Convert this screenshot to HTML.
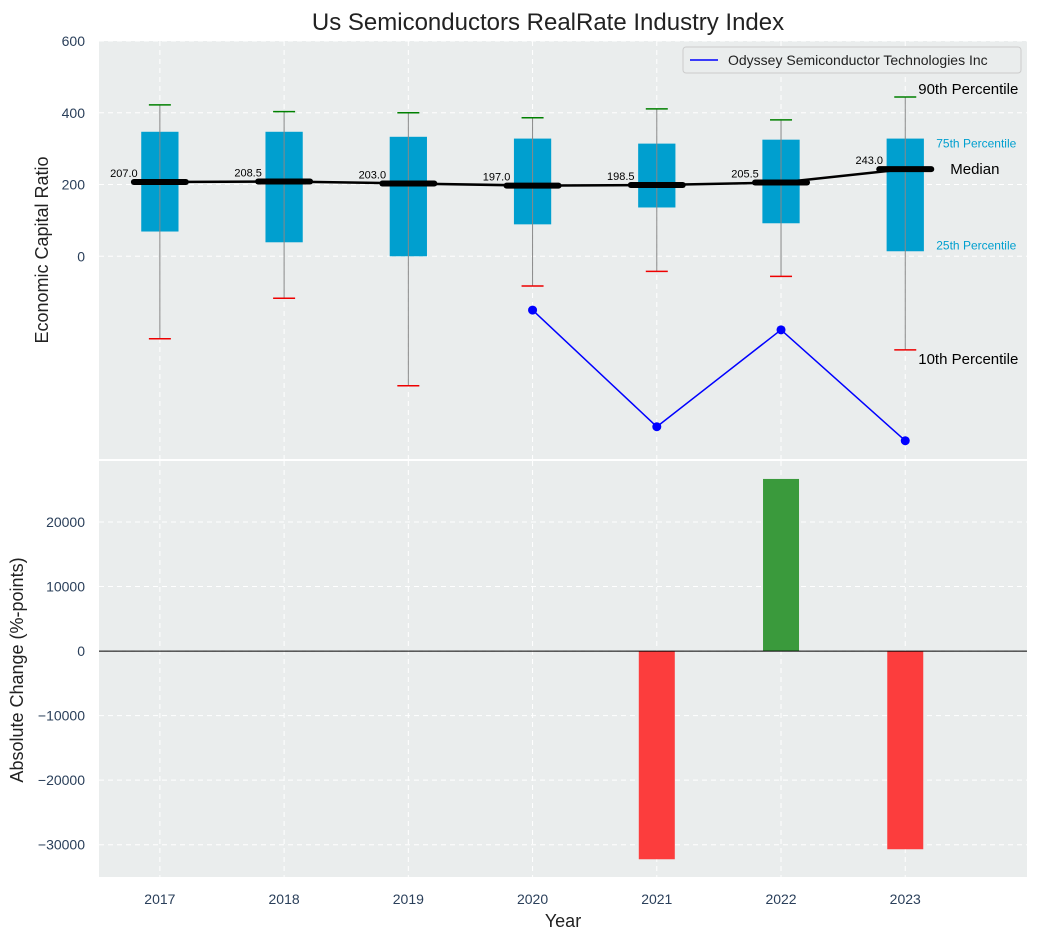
<!DOCTYPE html>
<html><head><meta charset="utf-8"><style>
body{margin:0;background:#fff;font-family:"Liberation Sans",sans-serif}
svg text{font-family:"Liberation Sans","DejaVu Sans",sans-serif}
</style></head><body>
<svg id="c" width="1038" height="940" xmlns="http://www.w3.org/2000/svg">
<text x="548" y="30" text-anchor="middle" font-size="24" fill="#222">Us Semiconductors RealRate Industry Index</text>
<g id="topG"></g><g id="botG"></g>
</svg>
<script>
const years=[2017,2018,2019,2020,2021,2022,2023];
const p90=[422,403,400,386,411,380,444];
const p75=[347,347,333,328,314,325,328];
const med=[207.0,208.5,203.0,197.0,198.5,205.5,243.0];
const p25=[69,39,0,89,136,92,14];
const p10=[-230,-117,-361,-83,-42,-56,-261];
const compYears=[2020,2021,2022,2023];
const compVals=[-150,-475,-205,-514];
const chgYears=[2021,2022,2023];
const chgVals=[-32250,26670,-30700];
const topTicks=[600,400,200,0];
const botTicks=[20000,10000,0,-10000,-20000,-30000];

const NS="http://www.w3.org/2000/svg";
function el(p,t,a,txt){const e=document.createElementNS(NS,t);for(const k in a)e.setAttribute(k,a[k]);if(txt!==undefined)e.textContent=txt;p.appendChild(e);return e;}
const L=99,R=1027;
const XMIN=2016.51,XMAX=2023.98;
const X=v=>L+(v-XMIN)/(XMAX-XMIN)*(R-L);
const T0=41,T1=459,Y=v=>T0+(600-v)/(600-(-565))*(T1-T0);
const B0=461,B1=877,YB=v=>B0+(29450-v)/(29450-(-35000))*(B1-B0);
const topG=document.getElementById('topG'),botG=document.getElementById('botG');
const svg=document.getElementById('c');

let r=el(topG,'rect',{x:L,y:T0,width:R-L,height:T1-T0,fill:'#eaeded'});

r=el(botG,'rect',{x:L,y:B0,width:R-L,height:B1-B0,fill:'#eaeded'});


topTicks.forEach(t=>{el(topG,'line',{x1:L,x2:R,y1:Y(t),y2:Y(t),stroke:'#fff','stroke-dasharray':'5,4','stroke-width':1});
 const tx=el(topG,'text',{x:85,y:Y(t)+5,'text-anchor':'end','font-size':14,fill:'#2a3f5a'},String(t));
 });
botTicks.forEach(t=>{el(botG,'line',{x1:L,x2:R,y1:YB(t),y2:YB(t),stroke:'#fff','stroke-dasharray':'5,4','stroke-width':1});
 const tx=el(botG,'text',{x:85,y:YB(t)+5,'text-anchor':'end','font-size':14,fill:'#2a3f5a'},t<0?'\u2212'+(-t):String(t));
 });
years.forEach(y=>{
 el(topG,'line',{x1:X(y),x2:X(y),y1:T0,y2:T1,stroke:'#fff','stroke-dasharray':'5,4'});
 el(botG,'line',{x1:X(y),x2:X(y),y1:B0,y2:B1,stroke:'#fff','stroke-dasharray':'5,4'});
 const tx=el(botG,'text',{x:X(y),y:904,'text-anchor':'middle','font-size':14,fill:'#2a3f5a'},String(y));
 
});

const bw=(X(2017.15)-X(2017));
years.forEach((y,i)=>{
 const cx=X(y);
 const g=el(topG,'g',{});
 
 el(g,'rect',{x:cx-bw,y:Y(p75[i]),width:2*bw,height:Y(p25[i])-Y(p75[i]),fill:'#009fcf'});
 el(g,'line',{x1:cx,x2:cx,y1:Y(p90[i]),y2:Y(p10[i]),stroke:'#888','stroke-width':1});
 el(g,'line',{x1:cx-11,x2:cx+11,y1:Y(p90[i]),y2:Y(p90[i]),stroke:'#008000','stroke-width':1.5});
 el(g,'line',{x1:cx-11,x2:cx+11,y1:Y(p10[i]),y2:Y(p10[i]),stroke:'#e00','stroke-width':1.5});
});
let mp=years.map((y,i)=>X(y)+','+Y(med[i])).join(' ');
let ml=el(topG,'polyline',{points:mp,fill:'none',stroke:'#000','stroke-width':2.5});

years.forEach((y,i)=>{
 el(topG,'line',{x1:X(y)-26,x2:X(y)+26,y1:Y(med[i]),y2:Y(med[i]),stroke:'#000','stroke-width':6,'stroke-linecap':'round'});
 const tx=el(topG,'text',{x:X(y)-36,y:Y(med[i])-5,'text-anchor':'middle','font-size':11,fill:'#000'},med[i].toFixed(1));
 
});
let cp=compYears.map((y,i)=>X(y)+','+Y(compVals[i])).join(' ');
let cl=el(topG,'polyline',{points:cp,fill:'none',stroke:'#0000ff','stroke-width':1.5});

compYears.forEach((y,i)=>{const c=el(topG,'circle',{cx:X(y),cy:Y(compVals[i]),r:4.5,fill:'#0000ff'});
 });
const li=years.length-1,ax=X(years[li]);
[['90th Percentile',ax+13,Y(p90[li])-3,15,'#000'],['75th Percentile',ax+31,Y(p75[li])+9,12,'#009fcf'],['Median',ax+45,Y(med[li])+5,15,'#000'],['25th Percentile',ax+31,Y(p25[li])-2,12,'#009fcf'],['10th Percentile',ax+13,Y(p10[li])+14,15,'#000']].forEach(a=>{
 const t=el(topG,'text',{x:a[1],y:a[2],'font-size':a[3],fill:a[4]},a[0]);
 
});
const lg=el(topG,'g',{});

el(lg,'rect',{x:683,y:47,width:338,height:26,fill:'#eaeded',stroke:'#ccc',rx:3});
el(lg,'line',{x1:690,x2:718,y1:60,y2:60,stroke:'#0000ff','stroke-width':1.5});
el(lg,'text',{x:728,y:65,'font-size':14,fill:'#222'},'Odyssey Semiconductor Technologies Inc');

chgYears.forEach((y,i)=>{const v=chgVals[i];
 const b=el(botG,'rect',{x:X(y)-18,y:Math.min(YB(0),YB(v)),width:36,height:Math.abs(YB(v)-YB(0)),fill:v>=0?'#3a9a3c':'#fc3d3d'});
 });
el(botG,'line',{x1:L,x2:R,y1:YB(0),y2:YB(0),stroke:'#000','stroke-width':1});

let t=el(svg,'text',{x:48,y:250,'text-anchor':'middle','font-size':18,fill:'#222',transform:'rotate(-90 48 250)'},'Economic Capital Ratio');

t=el(svg,'text',{x:23,y:670,'text-anchor':'middle','font-size':18,fill:'#222',transform:'rotate(-90 23 670)'},'Absolute Change (%-points)');

t=el(svg,'text',{x:563,y:927,'text-anchor':'middle','font-size':18,fill:'#222'},'Year');

</script>
</body></html>
